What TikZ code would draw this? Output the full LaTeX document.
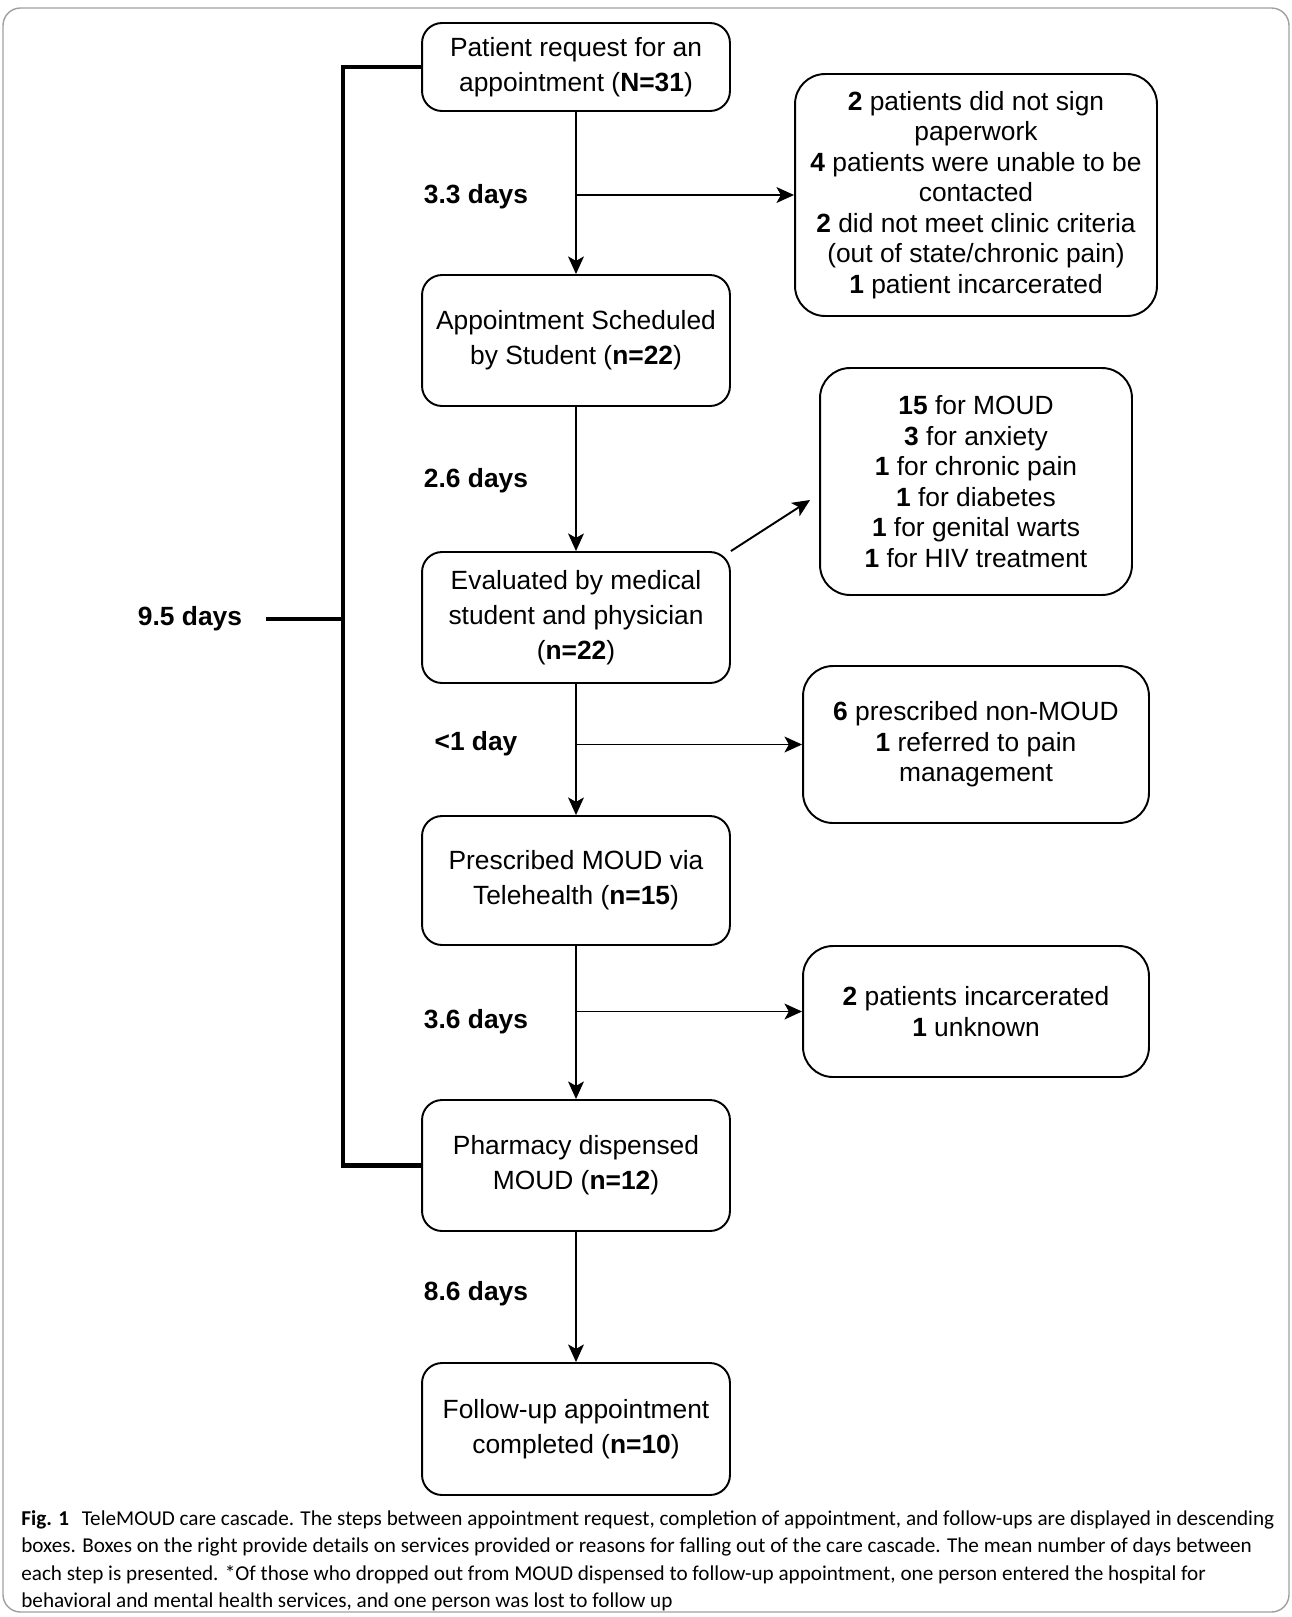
\documentclass[tikz,border=0pt]{standalone}
\usepackage{fontspec}
\setmainfont{Liberation Sans}
\newfontfamily\capfont{Carlito}
\usepackage{xcolor}
\usetikzlibrary{arrows.meta,positioning,calc}
\definecolor{FrameGray}{RGB}{160,160,160}
\newcommand{\boxfont}{\fontsize{15}{19.8}\selectfont}
\newcommand{\sidefont}{\fontsize{15}{17.4}\selectfont}
\newcommand{\dayfont}{\fontsize{15}{18}\selectfont\bfseries}
\tikzset{
  stepbox/.style={draw,line width=1.1pt,rounded corners=0.4cm,minimum width=6.16cm,minimum height=2.62cm,align=center,font=\boxfont,inner sep=0pt},
  sidebox/.style={draw,line width=1.1pt,rounded corners=0.6cm,align=center,font=\sidefont,inner sep=0pt},
  dayl/.style={font=\dayfont,inner sep=0pt},
  arr/.style={-{Stealth[length=10pt,width=9pt,inset=2.5pt]},line width=1.1pt},
  brk/.style={line width=2.4pt},
}
\begin{document}
\begin{tikzpicture}[x=0.02cm,y=-0.02cm]
    \useasboundingbox (0,0) rectangle (1292,1617);
    \draw[FrameGray,line width=0.8pt,rounded corners=0.35cm] (3,8) rectangle (1289,1612);
    %% Cascade steps
    \node[stepbox,minimum height=1.76cm] (req) at (576,67) {Patient request for an\\appointment (\textbf{N=31})};
    \node[stepbox] (sched)  at (576,340.5)  {Appointment Scheduled\\by Student (\textbf{n=22})};
    \node[stepbox] (eval)   at (576,617.5)  {Evaluated by medical\\student and physician\\(\textbf{n=22})};
    \node[stepbox,minimum height=2.58cm] (presc) at (576,880.5) {Prescribed MOUD via\\Telehealth (\textbf{n=15})};
    \node[stepbox] (pharm)  at (576,1165.5) {Pharmacy dispensed\\MOUD (\textbf{n=12})};
    \node[stepbox,minimum height=2.64cm] (follow) at (576,1429) {Follow-up appointment\\completed (\textbf{n=10})};
    \draw[arr] (req)--(sched);
    \draw[arr] (sched)--(eval);
    \draw[arr] (eval)--(presc);
    \draw[arr] (presc)--(pharm);
    \draw[arr] (pharm)--(follow);
    %% Boxes on the right
    \node[sidebox,minimum width=7.24cm,minimum height=4.84cm] (drop1) at (976,195) {\textbf{2} patients did not sign\\paperwork\\\textbf{4} patients were unable to be\\contacted\\\textbf{2} did not meet clinic criteria\\(out of state/chronic pain)\\\textbf{1} patient incarcerated};
    \node[sidebox,minimum width=6.24cm,minimum height=4.54cm] (serv) at (976,481.5) {\textbf{15} for MOUD\\\textbf{3} for anxiety\\\textbf{1} for chronic pain\\\textbf{1} for diabetes\\\textbf{1} for genital warts\\\textbf{1} for HIV treatment};
    \node[sidebox,minimum width=6.92cm,minimum height=3.14cm] (nonmoud) at (976,744.5) {\textbf{6} prescribed non-MOUD\\\textbf{1} referred to pain\\management};
    \node[sidebox,minimum width=6.92cm,minimum height=2.62cm] (incarc) at (976,1011.5) {\textbf{2} patients incarcerated\\\textbf{1} unknown};
    \draw[arr] (req.south |- drop1.west) -- (drop1.west);
    \draw[arr] (eval.north east) -- ([xshift=-0.18cm,yshift=-0.37cm]serv.west);
    \draw[arr] (eval.south |- nonmoud.west) -- (nonmoud.west);
    \draw[arr] (presc.south |- incarc.west) -- (incarc.west);
    %% Mean days between steps
    \node[dayl] (d33) at (476,197)  {3.3 days};
    \node[dayl] (d26) at (476,481)  {2.6 days};
    \node[dayl] (d01) at (476,744)  {<1 day};
    \node[dayl] (d36) at (476,1022) {3.6 days};
    \node[dayl] (d86) at (476,1294) {8.6 days};
    %% Overall bracket
    \coordinate (bmid) at (343,619);
    \draw[brk] (req.west) -| (bmid) |- (pharm.west);
    \node[dayl] (d95) at (190,619) {9.5 days};
    \draw[brk] ([xshift=0.48cm]d95.east) -- (bmid);
    %% Caption
    \node[anchor=north west,inner sep=0pt,align=left,font=\capfont\fontsize{12.05}{15.7}\selectfont] (cap) at (21,1510)
      {\textbf{Fig. 1}\hspace{0.6em}TeleMOUD care cascade. The steps between appointment request, completion of appointment, and follow-ups are displayed in descending\\
       boxes. Boxes on the right provide details on services provided or reasons for falling out of the care cascade. The mean number of days between\\
       each step is presented. *Of those who dropped out from MOUD dispensed to follow-up appointment, one person entered the hospital for\\
       behavioral and mental health services, and one person was lost to follow up};
\end{tikzpicture}
\end{document}
